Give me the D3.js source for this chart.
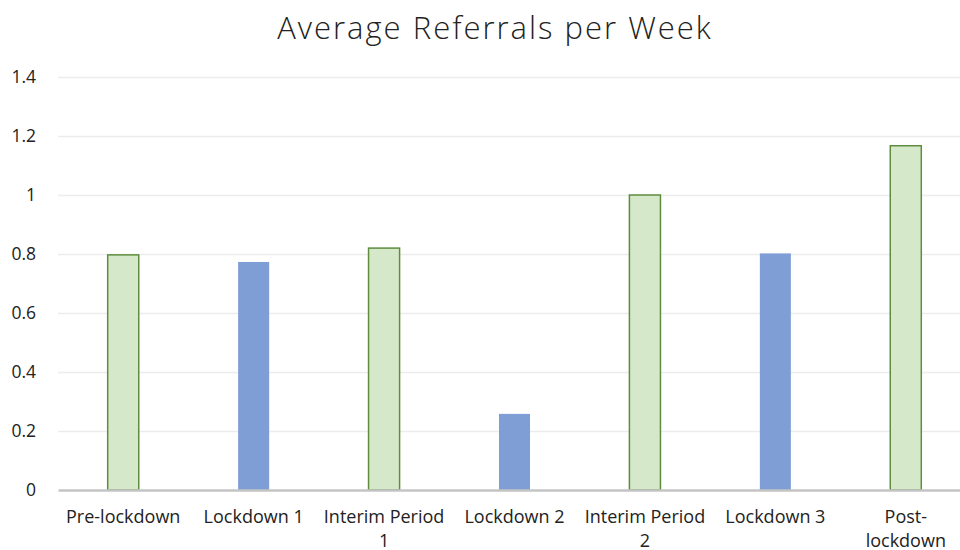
<!doctype html>
<html lang="en">
<head>
<meta charset="utf-8">
<title>Average Referrals per Week</title>
<style>
  body { margin: 0; background: #fff; }
  svg { font-family: "Open Sans", sans-serif; }
</style>
</head>
<body>
<script src="https://d3js.org/d3.v7.min.js"></script>
<script>
var categories = ["Pre-lockdown", "Lockdown 1", "Interim Period 1", "Lockdown 2",
                  "Interim Period 2", "Lockdown 3", "Post-lockdown"];
// tick labels as they wrap under the axis
var tickLines = [["Pre-lockdown"], ["Lockdown 1"], ["Interim Period", "1"], ["Lockdown 2"],
                 ["Interim Period", "2"], ["Lockdown 3"], ["Post-", "lockdown"]];
var values = [0.797, 0.773, 0.82, 0.258, 1.0, 0.802, 1.167];
var periodType = ["open", "lockdown", "open", "lockdown", "open", "lockdown", "open"];
var yTicks = [0, 0.2, 0.4, 0.6, 0.8, 1, 1.2, 1.4];

var width = 960, height = 550;
var margin = {top: 77, bottom: 60, left: 58};
var plotRight = 971; // plot runs a little past the right edge

var svg = d3.select("body").append("svg")
    .attr("width", width)
    .attr("height", height);

var x = d3.scaleBand()
    .domain(categories)
    .range([margin.left, plotRight])
    .paddingInner(0.762)
    .paddingOuter(0.381);

var y = d3.scaleLinear()
    .domain([0, 1.4])
    .range([height - margin.bottom, margin.top]);

// title
svg.append("text")
    .attr("x", 495)
    .attr("y", 39)
    .attr("text-anchor", "middle")
    .attr("font-size", 31)
    .attr("font-weight", 300)
    .attr("letter-spacing", 2)
    .attr("fill", "#222")
    .text("Average Referrals per Week");

// gridlines
svg.append("g")
    .selectAll("line")
    .data(yTicks.slice(1))
    .enter().append("line")
    .attr("x1", margin.left)
    .attr("x2", plotRight)
    .attr("y1", function(d) { return Math.round(y(d)) + 0.5; })
    .attr("y2", function(d) { return Math.round(y(d)) + 0.5; })
    .attr("stroke", "#ececec")
    .attr("stroke-width", 1.3);

// y axis labels
var yAxis = svg.append("g")
    .attr("transform", "translate(" + (margin.left - 19) + ",0)")
    .call(d3.axisLeft(y).tickValues(yTicks).tickSize(0).tickFormat(d3.format("~g")));
yAxis.select(".domain").remove();
yAxis.selectAll("text")
    .attr("font-size", 17.5)
    .attr("font-family", "'Open Sans', sans-serif")
    .attr("fill", "#222");

// bars
svg.append("g")
    .selectAll("rect")
    .data(values)
    .enter().append("rect")
    .attr("x", function(d, i) { return x(categories[i]); })
    .attr("y", function(d) { return y(d); })
    .attr("width", x.bandwidth())
    .attr("height", function(d) { return y(0) - y(d); })
    .attr("fill", function(d, i) { return periodType[i] == "open" ? "#d6e8ca" : "#7f9ed6"; })
    .attr("stroke", function(d, i) { return periodType[i] == "open" ? "#5e8d3e" : "none"; })
    .attr("stroke-width", 1.5);

// x axis
var xAxis = svg.append("g")
    .attr("transform", "translate(0," + y(0) + ")")
    .call(d3.axisBottom(x).tickSize(0).tickPadding(0));
xAxis.select(".domain")
    .attr("stroke", "#c4c4c4")
    .attr("stroke-width", 2.5);
xAxis.selectAll(".tick text")
    .attr("font-size", 18)
    .attr("font-family", "'Open Sans', sans-serif")
    .attr("fill", "#222")
    .attr("dy", null)
    .each(function(d) {
        var t = d3.select(this);
        var lines = tickLines[categories.indexOf(d)];
        t.text(null);
        lines.forEach(function(l, i) {
            t.append("tspan")
                .attr("x", 0)
                .attr("y", 32.5 + i * 24)
                .text(l);
        });
    });
</script>
</body>
</html>
